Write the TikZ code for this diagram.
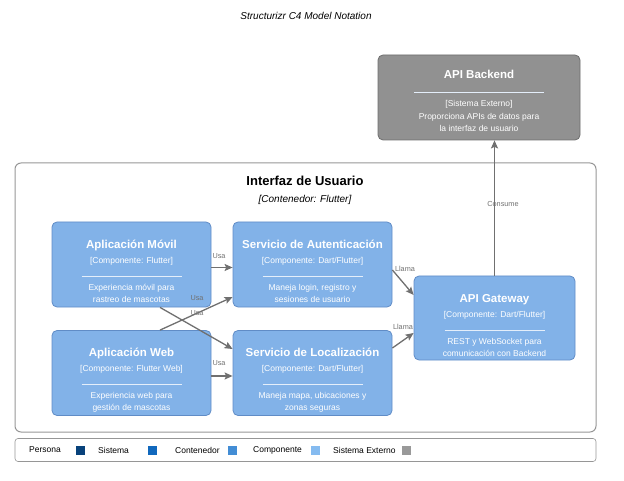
\documentclass[tikz,border=0pt]{standalone}
\usepackage{fontspec}
\setmainfont{Liberation Sans}
\usetikzlibrary{arrows.meta}

\definecolor{compfill}{RGB}{130,178,232}
\definecolor{compline}{RGB}{96,140,198}
\definecolor{extfill}{RGB}{145,145,145}
\definecolor{extline}{RGB}{110,110,110}
\definecolor{relgray}{RGB}{112,112,112}
\definecolor{boundline}{RGB}{150,150,150}
\definecolor{sepline}{RGB}{228,238,250}
\definecolor{cpersona}{RGB}{8,66,123}
\definecolor{csistema}{RGB}{17,104,189}
\definecolor{ccontenedor}{RGB}{67,141,213}
\definecolor{ccomponente}{RGB}{133,187,240}
\definecolor{cexterno}{RGB}{153,153,153}

% title line of a box, with a strut that pushes the text block down
\newcommand{\ctitle}[2][23pt]{\rule{0pt}{#1}{\fontsize{11.5}{12}\selectfont\bfseries #2}}
\newcommand{\csep}[1][100pt]{\textcolor{sepline}{\rule[2pt]{#1}{0.6pt}}}

\tikzset{
  comp/.style={draw=compline, fill=compfill, line width=0.8pt, rounded corners=5pt,
    minimum width=159pt, minimum height=85pt, inner sep=0pt, align=center,
    text=white, font=\fontsize{8.5}{12}\selectfont},
  ext/.style={comp, draw=extline, fill=extfill, minimum width=202pt},
  rel/.style={-{Stealth[length=8pt, width=7pt, inset=1.5pt]}, draw=relgray, fill=relgray, line width=1.3pt},
  rellabel/.style={font=\fontsize{7.3}{8}\selectfont, text=relgray, inner sep=0pt},
  legtext/.style={anchor=west, inner sep=0pt, font=\fontsize{8.5}{10}\selectfont},
  legbox/.style={minimum size=9pt, inner sep=0pt},
}

\begin{document}
\begin{tikzpicture}[x=1pt, y=-1pt]
\useasboundingbox (0,0) rectangle (624,481);

\node[inner sep=0pt, font=\fontsize{10}{12}\selectfont\itshape] (sub) at (306,16) {Structurizr C4 Model Notation};

% external system
\node[ext] (backend) at (479,97.5) {\ctitle[16pt]{API Backend}\\[4pt] \csep[130pt]\\ {[Sistema Externo]}\\[1pt] Proporciona APIs de datos para\\ la interfaz de usuario};

% container boundary
\node[draw=boundline, line width=1pt, rounded corners=6pt, minimum width=581pt, minimum height=269pt, inner sep=0pt] (ui) at (305.5,297.5) {};
\node[inner sep=0pt, font=\fontsize{13}{15}\selectfont\bfseries] (ui-title) at (305,181) {Interfaz de Usuario};
\node[inner sep=0pt, font=\fontsize{10}{12}\selectfont\itshape] (ui-tech) at (305,200) {[Contenedor: Flutter]};

% components
\node[comp] (movil) at (131.5,264.5) {\ctitle{Aplicación Móvil}\\[3pt] {[Componente: Flutter]}\\[3pt] \csep\\[0pt] Experiencia móvil para\\ rastreo de mascotas};
\node[comp] (auth) at (312.5,264.5) {\ctitle{Servicio de Autenticación}\\[3pt] {[Componente: Dart/Flutter]}\\[3pt] \csep\\[0pt] Maneja login, registro y\\ sesiones de usuario};
\node[comp] (web) at (131.5,373) {\ctitle{Aplicación Web}\\[3pt] {[Componente: Flutter Web]}\\[3pt] \csep\\[0pt] Experiencia web para\\ gestión de mascotas};
\node[comp] (loc) at (312.5,373) {\ctitle{Servicio de Localización}\\[3pt] {[Componente: Dart/Flutter]}\\[3pt] \csep\\[0pt] Maneja mapa, ubicaciones y\\ zonas seguras};
\node[comp, minimum width=161pt, minimum height=84pt] (gateway) at (494.5,318) {\ctitle{API Gateway}\\[3pt] {[Componente: Dart/Flutter]}\\[3pt] \csep\\[0pt] REST y WebSocket para\\ comunicación con Backend};

% relationships
\draw[rel] ([yshift=-3pt]movil.east) -- ([yshift=-3pt]auth.west);
\draw[rel] ([yshift=-3pt]web.east) -- ([yshift=-3pt]loc.west);
\draw[rel] ([xshift=28.5pt]movil.south) -- ([yshift=24pt]loc.west);
\draw[rel] ([xshift=28.5pt]web.north) -- ([yshift=-32.5pt]auth.west);
\draw[rel] ([yshift=-5.5pt]auth.east) -- ([yshift=23pt]gateway.west);
\draw[rel] ([yshift=25pt]loc.east) -- ([yshift=-15pt]gateway.west);
\draw[rel] (gateway.north) -- (gateway.north |- backend.south);

\node[rellabel] (usa1) at (219,256) {Usa};
\node[rellabel] (usa2) at (219,363) {Usa};
\node[rellabel] (usa3) at (197,298) {Usa};
\node[rellabel] (usa4) at (197,313) {Usa};
\node[rellabel] (llama1) at (405,269) {Llama};
\node[rellabel] (llama2) at (403,327) {Llama};
\node[rellabel] (consume) at (503,204) {Consume};

% legend
\node[draw=boundline, line width=0.6pt, rounded corners=3pt, minimum width=581pt, minimum height=23pt, inner sep=0pt] (leyenda) at (305.5,450) {};
\node[legtext] (l-persona) at (29,450) {Persona};
\node[legbox, fill=cpersona] (b-persona) at (80,450) {};
\node[legtext] (l-sistema) at (98,450) {Sistema};
\node[legbox, fill=csistema] (b-sistema) at (152,450) {};
\node[legtext] (l-contenedor) at (175,450) {Contenedor};
\node[legbox, fill=ccontenedor] (b-contenedor) at (232.5,450) {};
\node[legtext] (l-componente) at (253,450) {Componente};
\node[legbox, fill=ccomponente] (b-componente) at (315,450) {};
\node[legtext] (l-externo) at (333,450) {Sistema Externo};
\node[legbox, fill=cexterno] (b-externo) at (406.5,450) {};
\end{tikzpicture}
\end{document}
